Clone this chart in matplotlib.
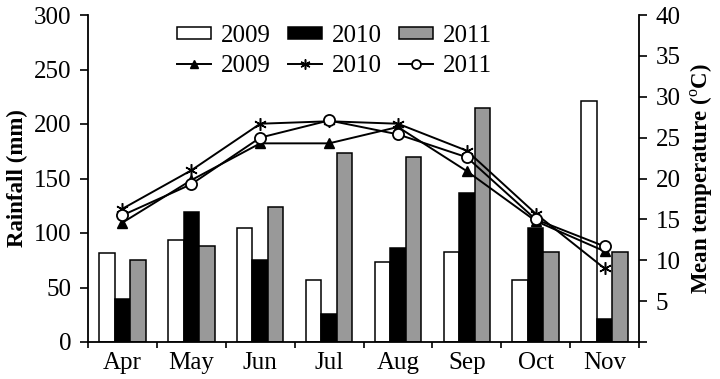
import matplotlib
matplotlib.use("Agg")
import matplotlib.pyplot as plt
import numpy as np

months = ["Apr", "May", "Jun", "Jul", "Aug", "Sep", "Oct", "Nov"]
years = ["2009", "2010", "2011"]
rain_2009 = [82, 94, 105, 57, 73, 83, 57, 221]
rain_2010 = [39, 119, 75, 26, 86, 137, 105, 21]
rain_2011 = [75, 88, 124, 173, 170, 215, 83, 83]
temp_2009 = [14.6, 19.8, 24.3, 24.3, 26.3, 20.9, 14.8, 11.1]
temp_2010 = [16.3, 21.0, 26.7, 27.0, 26.7, 23.4, 15.7, 9.0]
temp_2011 = [15.5, 19.3, 25.0, 27.1, 25.4, 22.6, 15.0, 11.7]

plt.rcParams['font.family'] = ['Liberation Serif', 'DejaVu Serif']
plt.rcParams['mathtext.fontset'] = 'custom'
plt.rcParams['mathtext.rm'] = 'Liberation Serif'
plt.rcParams['mathtext.bf'] = 'Liberation Serif:bold'

fs = 18
fig = plt.figure(figsize=(7.2, 3.79), dpi=100)
ax = fig.add_axes([88/720, 1-342/379, 551/720, 327/379])
x = np.arange(len(months))
w = 0.225
b1 = ax.bar(x - w, rain_2009, w, color='white', edgecolor='black', linewidth=1.1, zorder=2)
b2 = ax.bar(x, rain_2010, w, color='black', edgecolor='black', linewidth=1.1, zorder=2)
b3 = ax.bar(x + w, rain_2011, w, color='#999999', edgecolor='black', linewidth=1.1, zorder=2)

ax.set_xlim(-0.5, 7.5)
ax.set_ylim(0, 300)
ax.set_yticks(range(0, 301, 50))
ax.set_xticks(np.arange(-0.5, 8, 1))
ax.set_xticklabels([])
ax.set_xticks(x, minor=True)
ax.set_xticklabels(months, minor=True)
ax.tick_params(axis='x', which='major', direction='out', length=4, width=1.2)
ax.tick_params(axis='x', which='minor', length=0, pad=7, labelsize=fs)
ax.tick_params(axis='y', direction='out', length=6, width=1.2, pad=6, labelsize=fs)
for s in ['top', 'right']:
    ax.spines[s].set_visible(False)
for s in ['left', 'bottom']:
    ax.spines[s].set_linewidth(1.3)
ax.set_ylabel('Rainfall (mm)', fontsize=16.5, fontweight='bold', labelpad=4)

ax2 = ax.twinx()
ax2.set_ylim(0, 40)
ax2.set_yticks(range(0, 41, 5))
ax2.set_yticklabels([''] + [str(v) for v in range(5, 41, 5)])
ax2.tick_params(axis='y', direction='out', length=6, width=1.2, pad=6, labelsize=fs)
for s in ['top', 'left', 'bottom']:
    ax2.spines[s].set_visible(False)
ax2.spines['right'].set_linewidth(1.3)
l1, = ax2.plot(x, temp_2009, color='black', lw=1.4, marker='^', ms=7, mfc='black', mec='black', zorder=3)
l2, = ax2.plot(x, temp_2010, color='black', lw=1.4, marker=(6, 2, 0), ms=9, mec='black', mew=1.1, zorder=3)
l3, = ax2.plot(x, temp_2011, color='black', lw=1.4, marker='o', ms=8, mfc='white', mec='black', mew=1.3, zorder=4)
ax2.set_ylabel('Mean temperature ($^{\\mathrm{o}}$C)', fontsize=16.5, fontweight='bold', labelpad=6)

handles = [b1, l1, b2, l2, b3, l3]
labels = [years[0], years[0], years[1], years[1], years[2], years[2]]
ax2.legend(handles, labels, ncol=3, loc='upper left', bbox_to_anchor=(177/720, 1-25/379),
           bbox_transform=fig.transFigure, frameon=False, fontsize=fs,
           handlelength=1.35, handletextpad=0.4, columnspacing=0.7, labelspacing=0.32,
           borderpad=0, borderaxespad=0, handleheight=0.4, markerscale=0.8)

fig.savefig('out.png', dpi=100)
